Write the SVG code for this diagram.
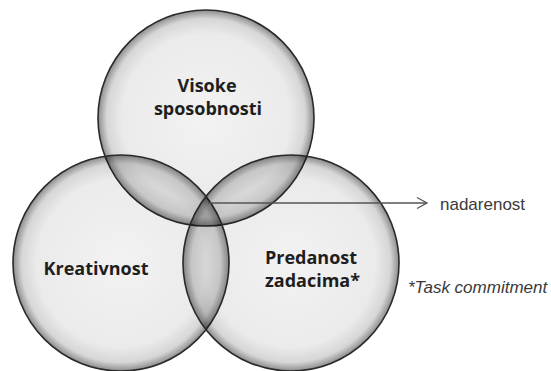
<svg xmlns="http://www.w3.org/2000/svg" width="551" height="371" viewBox="0 0 551 371">
<defs>
<radialGradient id="bub" cx="0.5" cy="0.5" r="0.5">
<stop offset="0" stop-color="#000" stop-opacity="0.05"/>
<stop offset="0.78" stop-color="#000" stop-opacity="0.08"/>
<stop offset="0.92" stop-color="#000" stop-opacity="0.16"/>
<stop offset="1" stop-color="#000" stop-opacity="0.45"/>
</radialGradient>
<marker id="arr" markerWidth="14" markerHeight="14" refX="12" refY="7" orient="auto" markerUnits="userSpaceOnUse">
<path d="M2,1.5 L12,7 L2,12.5" fill="none" stroke="#555" stroke-width="1.3"/>
</marker>
</defs>
<style>
.c{fill:url(#bub);stroke:#2a2a2a;stroke-width:1.6}
.lbl{font-family:"Open Sans","Noto Sans",sans-serif;font-weight:bold;font-size:18px;fill:#1e1e1e}
.note{font-family:"Liberation Sans",Arial,sans-serif;font-size:17px;fill:#3a3a3a}
</style>
<rect width="551" height="371" fill="#fff"/>
<g id="node-visoke">
<circle class="c" cx="206" cy="118" r="108"/>
<text class="lbl" x="207" y="92" text-anchor="middle">Visoke</text>
<text class="lbl" x="208" y="115" text-anchor="middle">sposobnosti</text>
</g>
<g id="node-kreativnost">
<circle class="c" cx="121" cy="263" r="108"/>
<text class="lbl" x="96" y="275" text-anchor="middle">Kreativnost</text>
</g>
<g id="node-predanost">
<circle class="c" cx="291" cy="263" r="108"/>
<text class="lbl" x="265" y="264">Predanost</text>
<text class="lbl" x="265" y="287">zadacima*</text>
</g>
<g id="connectors">
<line x1="208" y1="203" x2="427" y2="203" stroke="#555" stroke-width="1.3" marker-end="url(#arr)"/>
</g>
<g id="label-nadarenost">
<text class="note" x="440" y="210">nadarenost</text>
</g>
<g id="label-task">
<text class="note" x="408" y="293" font-style="italic">*Task commitment</text>
</g>
</svg>
